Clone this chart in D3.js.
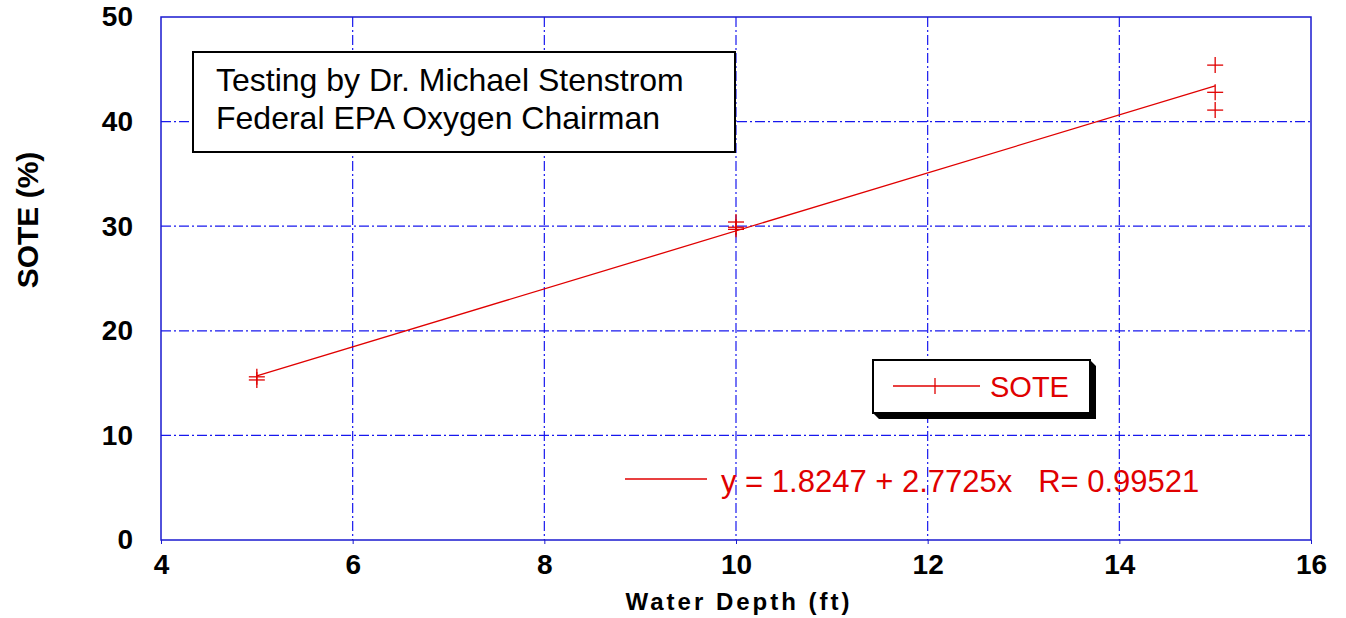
<!DOCTYPE html>
<html><head><meta charset="utf-8">
<script src="https://cdn.jsdelivr.net/npm/d3@7"></script>
<style>body{margin:0;background:#fff}svg{display:block}text{font-family:Arial,"Liberation Sans",sans-serif}</style>
</head><body><svg id="c" width="1346" height="618"></svg>
<script>
const depthX = [5, 5, 10, 10, 10, 15, 15, 15];
const soteY = [15.3, 15.6, 30.4, 29.9, 29.7, 45.4, 42.8, 41.1];
const xTicks = [4, 6, 8, 10, 12, 14, 16];
const yTicks = [0, 10, 20, 30, 40, 50];
const fitCoef = [1.8247, 2.7725];
const fitRange = [5, 15];
const fitR = 0.99521;
const noteLines = ["Testing by Dr. Michael Stenstrom", "Federal EPA Oxygen Chairman"];

const svg = d3.select("#c");
const L = 161, R = 1311, T = 17, B = 540;
const x = d3.scaleLinear().domain([4, 16]).range([L, R]);
const y = d3.scaleLinear().domain([0, 50]).range([B, T]);
const red = "#e00000", blue = "#1818ee";

// grid
const g = svg.append("g");
g.selectAll(".gx").data(xTicks.slice(1, -1)).join("line")
  .attr("x1", d => x(d)).attr("x2", d => x(d)).attr("y1", T).attr("y2", B)
  .attr("stroke", blue).attr("stroke-width", 1.2).attr("stroke-dasharray", "10,3,2,3");
g.selectAll(".gy").data(yTicks.slice(1, -1)).join("line")
  .attr("y1", d => y(d)).attr("y2", d => y(d)).attr("x1", L).attr("x2", R)
  .attr("stroke", blue).attr("stroke-width", 1.2).attr("stroke-dasharray", "10,3,2,3");

// frame
svg.append("rect").attr("x", L).attr("y", T).attr("width", R - L).attr("height", B - T)
  .attr("fill", "none").attr("stroke", "#1a1ad0").attr("stroke-width", 1.5);

// axes
const xa = svg.append("g").attr("transform", `translate(0,${B})`)
  .call(d3.axisBottom(x).tickValues(xTicks).tickSize(4).tickPadding(6).tickFormat(d3.format("d")));
xa.select(".domain").remove();
xa.selectAll("line").attr("stroke", "#1a1ad0");
xa.selectAll("text").attr("font-size", 28).attr("font-weight", "bold").attr("fill", "#000").attr("dy", "0.85em");

const ya = svg.append("g").attr("transform", `translate(${L},0)`)
  .call(d3.axisLeft(y).tickValues(yTicks).tickSize(0).tickPadding(28).tickFormat(d3.format("d")));
ya.select(".domain").remove();
ya.selectAll("text").attr("font-size", 28).attr("font-weight", "bold").attr("fill", "#000");

svg.append("text").attr("x", 739).attr("y", 610).attr("text-anchor", "middle")
  .attr("font-size", 24).attr("font-weight", "bold").attr("letter-spacing", 3).text("Water Depth (ft)");
svg.append("text").attr("transform", "translate(38,220) rotate(-90)").attr("text-anchor", "middle")
  .attr("font-size", 30).attr("font-weight", "bold").text("SOTE (%)");

// fit line
const fitPts = fitRange.map(v => [v, fitCoef[0] + fitCoef[1] * v]);
svg.append("path").attr("d", d3.line().x(d => x(d[0])).y(d => y(d[1]))(fitPts))
  .attr("stroke", red).attr("stroke-width", 1.3).attr("fill", "none");

// points
const cs = 8;
const pts = svg.append("g").selectAll("g").data(depthX.map((d, i) => [d, soteY[i]])).join("g")
  .attr("transform", d => `translate(${x(d[0])},${y(d[1])})`);
pts.append("line").attr("x1", -cs).attr("x2", cs).attr("stroke", red).attr("stroke-width", 1.3);
pts.append("line").attr("y1", -cs).attr("y2", cs).attr("stroke", red).attr("stroke-width", 1.3);

// note box
svg.append("rect").attr("x", 193).attr("y", 52).attr("width", 542).attr("height", 100)
  .attr("fill", "#fff").attr("stroke", "#000").attr("stroke-width", 2);
svg.selectAll(".note").data(noteLines).join("text").attr("x", 216).attr("y", (d, i) => 91 + i * 38)
  .attr("font-size", 32).attr("fill", "#000").text(d => d);

// legend box with shadow
svg.append("path").attr("d", "M873,413 L879,419 L1096,419 L1096,366 L1090,360 L1090,413 Z").attr("fill", "#000");
svg.append("rect").attr("x", 873).attr("y", 360).attr("width", 217).attr("height", 53)
  .attr("fill", "#fff").attr("stroke", "#000").attr("stroke-width", 2);
svg.append("line").attr("x1", 893).attr("x2", 980).attr("y1", 386).attr("y2", 386).attr("stroke", red).attr("stroke-width", 1.3);
svg.append("line").attr("x1", 935).attr("x2", 935).attr("y1", 378).attr("y2", 394).attr("stroke", red).attr("stroke-width", 1.3);
svg.append("text").attr("x", 990).attr("y", 397).attr("font-size", 29).attr("fill", red).text("SOTE");

// equation
svg.append("line").attr("x1", 625).attr("x2", 707).attr("y1", 479).attr("y2", 479).attr("stroke", red).attr("stroke-width", 1.3);
svg.append("text").attr("x", 721).attr("y", 492).attr("font-size", 31).attr("fill", red).attr("xml:space", "preserve")
  .text(`y = ${fitCoef[0]} + ${fitCoef[1]}x   R= ${fitR}`);
</script></body></html>
